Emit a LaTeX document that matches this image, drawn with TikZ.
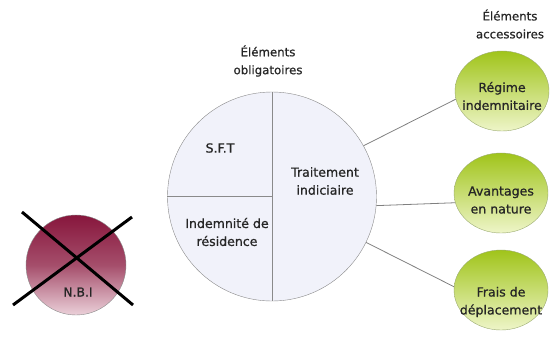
\documentclass[tikz,border=0pt]{standalone}
\usepackage{fontspec}
\setmainfont{DejaVu Sans}[RawFeature={embolden=0.8}]
\usetikzlibrary{shapes.geometric}
\definecolor{bordgris}{HTML}{8A8A8A}
\definecolor{fondbleu}{HTML}{F1F2FA}
\definecolor{vertfonce}{HTML}{A0C41A}
\definecolor{vertclair}{HTML}{EEF5C8}
\definecolor{bordvert}{HTML}{9AAA70}
\definecolor{bordeaux}{HTML}{87163C}
\definecolor{rosepale}{HTML}{EBD0D9}
\definecolor{encre}{HTML}{262626}

\begin{document}
\begin{tikzpicture}[x=1bp, y=-1bp,
  titre/.style={align=center, text=encre, font=\fontsize{11.8}{18}\selectfont},
  texte/.style={align=center, text=encre, font=\fontsize{12.6}{18}\selectfont},
  accessoire/.style={ellipse, draw=bordvert, top color=vertfonce, bottom color=vertclair,
    minimum width=94bp, minimum height=80bp, inner sep=0pt},
  lien/.style={draw=gray, line width=0.8pt},
  croix/.style={line width=3bp, black}]
\useasboundingbox (0,0) rectangle (550,340);
% elements obligatoires
\node[titre] (obligatoires) at (268,61) {Éléments\\obligatoires};
\node[circle, draw=bordgris, fill=fondbleu, minimum size=209bp, inner sep=0pt] (cercle) at (272,196.5) {};
\draw[bordgris] (cercle.north) -- (cercle.south);
\draw[bordgris] (cercle.west) -- (cercle.center);
\node[texte] (sft) at (220,148) {S.F.T};
\node[texte] (traitement) at (325,181) {Traitement\\indiciaire};
\node[texte] (residence) at (227,232) {Indemnité de\\résidence};
% elements accessoires
\node[titre] (accessoires) at (510,24) {Éléments\\accessoires};
\node[accessoire] (regime) at (502,91) {};
\node[accessoire] (avantages) at (501,193) {};
\node[accessoire] (frais) at (501,290) {};
\node[texte] at ([yshift=-5bp]regime.center) {Régime\\indemnitaire};
\node[texte] at ([yshift=-7bp]avantages.center) {Avantages\\en nature};
\node[texte] at ([yshift=-12bp]frais.center) {Frais de\\déplacement};
\draw[lien] (cercle.29) -- (regime.190);
\draw[lien] (cercle.-5) -- (avantages.192);
\draw[lien] (cercle.-26) -- (frais.176);
% N.B.I barree
\node[circle, draw=bordgris, top color=bordeaux, bottom color=rosepale, middle color=bordeaux!70!rosepale,
  minimum size=100bp, inner sep=0pt] (nbi) at (76,265) {};
\node[texte, font=\fontsize{12.4}{14}\selectfont] (nbitexte) at (78,292) {N.B.I};
\coordinate (hautgauche) at (22,212);
\coordinate (basdroite) at (133,305);
\coordinate (hautdroite) at (132,217);
\coordinate (basgauche) at (13,305);
\draw[croix] (hautgauche) -- (basdroite);
\draw[croix] (hautdroite) -- (basgauche);
\end{tikzpicture}
\end{document}
